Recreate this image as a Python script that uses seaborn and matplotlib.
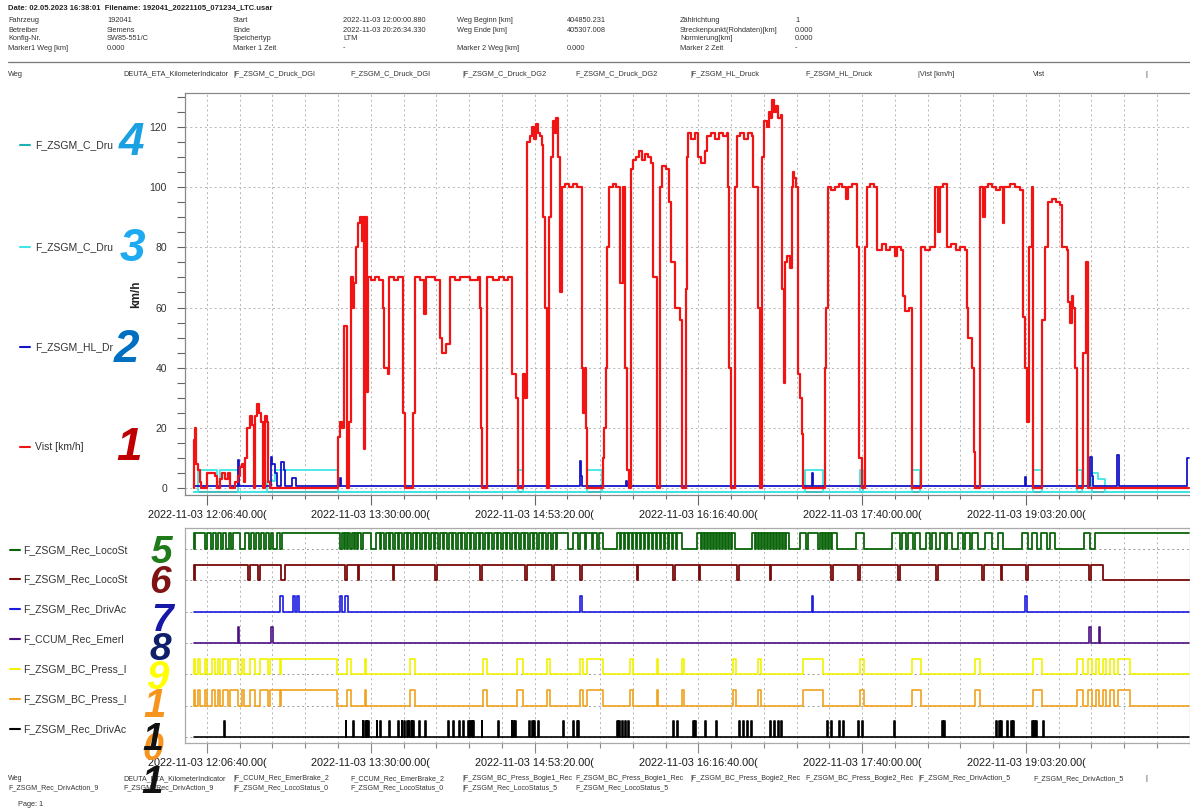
import numpy as np
import pandas as pd
import seaborn as sns
import matplotlib.pyplot as plt
from matplotlib.lines import Line2D

# time axis: minutes after 2022-11-03 12:00:00
T_END = 506.5

# Vist [km/h] as step points (minute, km/h)
vist = [
    (0.0, 0), (0.3, 16), (0.8, 20), (1.3, 8), (2.0, 6), (3.0, 2), (3.5, 0),
    (6.6, 5), (10.7, 4), (11.7, 0), (13.2, 3), (14.5, 5), (15.8, 3), (17.3, 5), (18.3, 0),
    (20.9, 2), (22.4, 4), (23.4, 7), (24.4, 8), (25.5, 2), (26.0, 10), (27.0, 20), (28.5, 24),
    (29.5, 21), (30.5, 0), (31.0, 24), (32.1, 28), (33.1, 25), (34.1, 22), (35.1, 0),
    (36.1, 24), (37.2, 22), (37.7, 2), (38.7, 0),
    (73.3, 17), (74.3, 22), (75.3, 20), (76.4, 54), (77.9, 0), (79.0, 22), (80.0, 70),
    (80.9, 60), (81.5, 68), (82.5, 80), (83.5, 88), (84.5, 90), (85.5, 82), (86.0, 90),
    (86.8, 13), (87.3, 90), (88.1, 32), (88.6, 70),
    (90.0, 69), (92.0, 70), (94.0, 69), (96.2, 60), (96.8, 40), (98.7, 38), (99.5, 70),
    (102.0, 69), (104.0, 70), (106.4, 25), (107.4, 0), (111.5, 25), (112.5, 70),
    (115.0, 69), (117.0, 58), (118.0, 70), (122.7, 69), (125.2, 50), (126.0, 45), (128.5, 48),
    (130.3, 70), (133.0, 69), (135.4, 70), (140.5, 69), (144.5, 70),
    (145.6, 60), (146.3, 20), (146.8, 0), (149.1, 70),
    (152.0, 69), (155.0, 70), (158.0, 69), (160.0, 70),
    (161.9, 38), (163.9, 30), (164.9, 0), (167.5, 38), (168.5, 30), (169.5, 115), (171.0, 117),
    (172.0, 120), (173.0, 116), (174.0, 121), (175.0, 118), (176.1, 117), (177.0, 114),
    (177.6, 90), (178.7, 60), (179.7, 0), (180.7, 90), (181.7, 110), (182.7, 122), (183.7, 118),
    (184.5, 123), (185.3, 110), (186.3, 65), (187.3, 100),
    (189.0, 101), (191.0, 100), (193.0, 101), (195.0, 100),
    (197.5, 40), (198.2, 25), (199.0, 40), (199.5, 20), (200.0, 0),
    (208.2, 10), (208.7, 20), (209.7, 40), (210.2, 80), (211.0, 100), (213.0, 101), (215.0, 100),
    (216.8, 68), (218.4, 100), (219.4, 40), (220.4, 6), (221.4, 0), (222.6, 106),
    (223.5, 109), (225.0, 110), (226.5, 112), (228.0, 109), (229.5, 111), (231.0, 110),
    (232.5, 108), (233.6, 70), (235.7, 0), (237.2, 100), (238.0, 107), (240.0, 106),
    (241.8, 95), (243.0, 75), (245.0, 60), (247.5, 56), (248.4, 0), (250.4, 66), (251.0, 110),
    (251.4, 118), (253.0, 116), (255.0, 118), (256.5, 110), (258.0, 108), (260.0, 112),
    (261.1, 117), (263.0, 118), (265.0, 116), (267.0, 118), (269.0, 117), (271.0, 118),
    (271.8, 100), (272.5, 40), (273.4, 0), (275.4, 100), (276.4, 117), (278.0, 118),
    (280.0, 116), (282.0, 118), (284.0, 117), (284.5, 100), (287.0, 60), (288.1, 0),
    (289.1, 110), (290.0, 122), (291.5, 120), (292.5, 125), (293.5, 123), (294.2, 129),
    (295.0, 125), (296.0, 127), (297.3, 123), (298.5, 124), (299.3, 66), (300.3, 35),
    (301.0, 75), (302.0, 77), (303.3, 73), (304.4, 100), (305.0, 105), (305.5, 103),
    (306.5, 100), (307.4, 38), (308.5, 30), (309.5, 18), (310.0, 0),
    (321.2, 40), (321.8, 60), (322.7, 100), (324.0, 99), (326.0, 100), (328.0, 101),
    (330.0, 100), (332.0, 96), (333.0, 100), (335.0, 101), (337.5, 80), (338.5, 10), (340.0, 0),
    (341.5, 80), (342.6, 100), (344.0, 101), (346.0, 100), (347.7, 79),
    (350.0, 81), (352.0, 79), (354.3, 80), (356.8, 77), (357.8, 80), (360.0, 79), (360.9, 64),
    (361.9, 59), (364.0, 60), (365.5, 0),
    (370.0, 80), (372.0, 79), (374.6, 80), (377.2, 100), (378.5, 85), (379.5, 100), (381.0, 101),
    (383.3, 80), (385.0, 81), (388.0, 79), (390.0, 80), (392.4, 79), (393.5, 60), (394.0, 50),
    (396.0, 40), (397.0, 12), (397.5, 0),
    (400.1, 100), (401.5, 90), (402.3, 100), (404.0, 101), (406.0, 100), (408.0, 99),
    (410.0, 100), (411.8, 88), (412.3, 100), (415.0, 101), (418.0, 100), (420.4, 99),
    (422.0, 57), (423.0, 40), (424.0, 22), (425.0, 80), (426.5, 100), (427.1, 0),
    (431.6, 56), (433.2, 80), (434.7, 95), (436.5, 96), (438.5, 95), (440.8, 94), (441.8, 80),
    (444.4, 79), (444.9, 62), (446.0, 55), (446.8, 64), (447.4, 60), (448.4, 40), (449.4, 0),
    (452.5, 45), (454.0, 75), (455.0, 0), (T_END, 0),
]

# F_ZSGM_HL_Druck (step points)
hl_druck = [
    (0.0, 0.8), (22.4, 9.5), (22.9, 0.8), (39.4, 10.5), (40.0, 8), (41.2, 5), (42.2, 0.8),
    (44.3, 8.6), (45.8, 6), (46.5, 0.8), (49.9, 3.3), (51.9, 0.8), (74.3, 3.5), (75.0, 0.8),
    (78.0, 8), (78.6, 0.8), (196.5, 9), (197.0, 4), (197.5, 0.8), (219.9, 2.5), (220.4, 0.8),
    (314.6, 5), (315.1, 0.8), (423.0, 3.8), (423.5, 0.8), (456.1, 10.5), (456.8, 4),
    (457.5, 0.8), (469.5, 11), (470.5, 0.8), (505.5, 10), (T_END, 10),
]

# F_ZSGM_C_Druck_DG2 (step points)
c_druck_2 = [
    (0.0, -1.2), (2.0, 6), (11.7, 2), (13.2, 6), (22.4, -1.2), (37.2, 2.6), (41.2, 6),
    (73.3, -1.2), (164.9, 6), (167.5, -1.2), (200.0, 6), (207.7, -1.2), (311.0, 6),
    (320.2, -1.2), (339.0, 6), (340.5, -1.2), (365.5, 6), (369.5, -1.2), (427.1, 6),
    (431.6, -1.2), (449.4, 6), (452.0, -1.2), (457.1, 5), (460.0, 3), (463.7, -1.2), (T_END, -1.2),
]

# F_ZSGM_C_Druck_DGI (step points)
c_druck_1 = [(0.0, -1.2), (T_END, -1.2)]

# digital channels: intervals (start, end) in minutes
loco_status_0_low = [
    (0.0, 0.5), (5.6, 6.6), (8.7, 9.7), (11.2, 12.2), (13.7, 14.8), (16.3, 17.8), (18.8, 19.9),
    (23.4, 26.0), (28.0, 29.0), (30.5, 31.6), (33.1, 34.1), (35.6, 36.6), (38.2, 39.2),
    (40.2, 42.2), (43.8, 44.8),
    (74.3, 75.3), (76.4, 76.9), (77.9, 78.4), (79.4, 80.4), (81.4, 81.9), (83.0, 83.5),
    (85.0, 86.0), (90.1, 92.6), (94.7, 95.2), (96.7, 97.7), (99.3, 99.8), (101.3, 102.3),
    (103.8, 104.3), (105.9, 106.9), (108.4, 108.9), (110.5, 111.5), (113.0, 113.5),
    (115.0, 116.1), (117.6, 118.1), (119.6, 120.6), (122.2, 122.7), (124.2, 125.2),
    (126.7, 127.3), (128.8, 129.8), (131.3, 131.8), (133.4, 134.4), (135.9, 136.4),
    (137.9, 139.0), (140.5, 141.0), (142.5, 143.5), (145.1, 145.6), (147.1, 148.1),
    (149.6, 150.2), (151.7, 152.7), (154.2, 154.7), (156.3, 157.3), (158.8, 159.3),
    (160.8, 161.9), (163.4, 163.9), (165.4, 166.4), (168.0, 168.5), (170.0, 171.0),
    (172.6, 173.1), (174.6, 175.6), (177.1, 177.6), (179.2, 180.2), (181.7, 182.7),
    (184.3, 184.8), (190.4, 192.9), (195.5, 196.5), (199.0, 199.5), (202.6, 203.1),
    (205.1, 206.1), (208.2, 215.3), (216.8, 217.3), (218.9, 219.4), (220.9, 221.4),
    (222.9, 223.5), (225.0, 225.5), (227.0, 227.5), (229.1, 229.6), (231.1, 231.6),
    (233.1, 233.6), (235.2, 235.7), (237.2, 237.7), (239.2, 239.7), (241.3, 241.8),
    (243.3, 243.8), (245.3, 245.8), (248.4, 256.0), (258.1, 258.6), (259.6, 260.1),
    (261.1, 261.6), (262.6, 263.2), (264.2, 264.7), (265.7, 266.2), (267.2, 267.7),
    (268.8, 269.3), (270.3, 270.8), (271.8, 272.3), (273.3, 273.8), (275.4, 284.0),
    (285.5, 286.1), (287.1, 287.6), (288.6, 289.1), (290.1, 290.6), (291.7, 292.2),
    (293.2, 293.7), (294.7, 295.2), (296.2, 296.7), (297.8, 298.3), (299.3, 299.8),
    (300.8, 301.3), (302.9, 308.5), (311.5, 312.5), (317.6, 318.6), (319.7, 320.2),
    (321.2, 321.7), (322.7, 323.2), (324.2, 324.7), (327.3, 337.0), (341.0, 355.3),
    (359.4, 360.4), (362.4, 363.4), (366.0, 367.0), (369.5, 372.6), (374.6, 375.6),
    (377.7, 379.7), (382.3, 383.3), (385.8, 388.9), (391.4, 392.4), (395.0, 396.0),
    (399.1, 402.6), (406.2, 409.2), (411.8, 421.5), (424.5, 426.5), (429.1, 431.1),
    (434.2, 435.7), (438.2, 453.0), (456.1, 458.6),
]
loco_status_5_low = [
    (0.0, 0.8), (27.5, 28.5), (32.6, 33.6), (44.3, 46.3), (76.9, 77.9), (83.5, 84.0),
    (101.3, 101.8), (122.7, 123.7), (145.6, 146.6), (168.5, 169.5), (182.2, 183.2),
    (196.5, 197.5), (225.5, 226.0), (243.8, 244.8), (257.0, 257.6), (276.4, 277.4),
    (293.2, 293.7), (324.2, 325.2), (337.9, 339.0), (358.3, 359.4), (377.7, 378.7),
    (401.1, 402.1), (410.8, 411.3), (423.5, 424.5), (455.6, 456.6), (462.7, 508.0),
]
driv_action_9_on = [
    (43.8, 45.3), (50.4, 51.4), (52.4, 53.4), (74.3, 75.3), (76.9, 78.4), (196.5, 197.5),
    (314.6, 315.1), (423.0, 424.0),
]
emer_brake_2_on = [(22.4, 22.9), (39.2, 40.2), (455.6, 456.6), (460.6, 461.2)]
bc_bogie1_on = [
    (0.0, 0.5), (2.0, 3.1), (5.6, 6.6), (9.2, 10.7), (12.2, 13.2), (14.8, 17.3), (18.3, 22.4),
    (24.4, 25.5), (28.5, 31.0), (33.6, 37.7), (38.7, 43.8), (44.3, 72.8), (77.9, 79.9),
    (87.0, 87.5), (109.9, 112.5), (147.1, 149.1), (164.4, 167.5), (179.7, 181.2),
    (196.5, 198.0), (200.0, 208.2), (221.9, 223.5), (235.7, 236.2), (248.4, 249.4),
    (274.4, 275.9), (287.1, 288.6), (310.0, 320.2), (339.0, 341.0), (365.5, 370.0),
    (397.5, 400.1), (427.1, 431.6), (449.4, 452.5), (455.0, 457.1), (459.1, 460.6),
    (462.7, 464.2), (466.2, 468.3), (470.3, 476.4),
]
bc_bogie2_on = [
    (0.0, 0.5), (2.0, 3.1), (5.6, 6.6), (9.2, 10.7), (12.2, 13.2), (14.8, 17.3), (18.3, 22.4),
    (24.4, 25.5), (28.5, 31.0), (33.6, 37.7), (38.7, 43.8), (44.3, 72.8), (77.9, 79.9),
    (87.0, 87.5), (109.9, 112.5), (147.1, 149.1), (164.4, 167.5), (179.7, 181.2),
    (196.5, 198.0), (200.0, 208.2), (221.9, 223.5), (235.7, 236.2), (248.4, 249.4),
    (274.4, 275.9), (287.1, 288.6), (310.0, 320.2), (339.0, 341.0), (365.5, 370.0),
    (397.5, 400.1), (427.1, 431.6), (449.4, 452.5), (455.0, 457.1), (459.1, 460.6),
    (462.7, 464.2), (466.2, 468.3), (470.3, 476.4),
]
driv_action_5_on = [
    15.3, 77.2, 81.1, 85.9, 87.0, 87.9, 88.7, 93.0, 94.7, 99.4, 104.0, 105.7, 106.9, 108.3,
    109.6, 110.8, 111.6, 114.7, 117.6, 129.4, 132.0, 135.0, 137.1, 139.6, 140.5, 141.4, 142.2,
    146.4, 154.9, 161.7, 162.5, 163.4, 170.7, 171.9, 173.1, 175.3, 188.0, 193.1, 194.8, 195.6,
    215.2, 216.5, 217.7, 219.4, 221.1, 244.0, 245.7, 254.0, 255.0, 260.1, 265.7, 277.4, 279.4,
    281.5, 283.5, 293.2, 295.2, 297.3, 298.8, 322.2, 324.2, 328.3, 330.3, 338.0, 340.0, 356.3,
    380.7, 381.8, 408.2, 409.7, 410.8, 413.8, 415.9, 416.9, 426.5, 427.6, 428.6, 432.1,
]

tick_labels = [
    '2022-11-03 12:06:40.00(', '2022-11-03 13:30:00.00(', '2022-11-03 14:53:20.00(',
    '2022-11-03 16:16:40.00(', '2022-11-03 17:40:00.00(', '2022-11-03 19:03:20.00(',
]

main_names = ['F_ZSGM_C_Dru', 'F_ZSGM_C_Dru', 'F_ZSGM_HL_Dr', 'Vist [km/h]']
lower_names = ['F_ZSGM_Rec_LocoSt', 'F_ZSGM_Rec_LocoSt', 'F_ZSGM_Rec_DrivAc', 'F_CCUM_Rec_Emerl',
               'F_ZSGM_BC_Press_I', 'F_ZSGM_BC_Press_I', 'F_ZSGM_Rec_DrivAc']

header_rows = [
    ['Fahrzeug', '192041', 'Start', '2022-11-03 12:00:00.880', 'Weg Beginn [km]', '404850.231',
     'Zählrichtung', '1'],
    ['Betreiber', 'Siemens', 'Ende', '2022-11-03 20:26:34.330', 'Weg Ende [km]', '405307.008',
     'Streckenpunkt(Rohdaten)[km]', '0.000'],
    ['Konfig-Nr.', 'SW85-551/C', 'Speichertyp', 'LTM', '', '', 'Normierung[km]', '0.000'],
    ['Marker1 Weg [km]', '0.000', 'Marker 1 Zeit', '-', 'Marker 2 Weg [km]', '0.000',
     'Marker 2 Zeit', '-'],
]
channel_row = ['Weg', 'DEUTA_ETA_KilometerIndicator', '|F_ZSGM_C_Druck_DGI', 'F_ZSGM_C_Druck_DGI',
               '|F_ZSGM_C_Druck_DG2', 'F_ZSGM_C_Druck_DG2', '|F_ZSGM_HL_Druck', 'F_ZSGM_HL_Druck',
               '|Vist [km/h]', 'Vist', '|']
footer_row_1 = ['Weg', 'DEUTA_ETA_KilometerIndicator', '|F_CCUM_Rec_EmerBrake_2',
                'F_CCUM_Rec_EmerBrake_2', '|F_ZSGM_BC_Press_Bogie1_Rec', 'F_ZSGM_BC_Press_Bogie1_Rec',
                '|F_ZSGM_BC_Press_Bogie2_Rec', 'F_ZSGM_BC_Press_Bogie2_Rec',
                '|F_ZSGM_Rec_DrivAction_5', 'F_ZSGM_Rec_DrivAction_5', '|']
footer_row_2 = ['F_ZSGM_Rec_DrivAction_9', 'F_ZSGM_Rec_DrivAction_9', '|F_ZSGM_Rec_LocoStatus_0',
                'F_ZSGM_Rec_LocoStatus_0', '|F_ZSGM_Rec_LocoStatus_5', 'F_ZSGM_Rec_LocoStatus_5']


def pairs_frame(pairs):
    return pd.DataFrame(pairs, columns=['t', 'v'])


def pulse_frame(intervals, rest, active):
    '''
    Build a step series from (start, end) intervals where the signal leaves its rest level.
    '''
    t, v = [0.0], [rest]
    for a, b in intervals:
        t += [a, b]
        v += [active, rest]
    if t[-1] < T_END:
        t.append(T_END)
        v.append(rest)
    return pd.DataFrame({'t': t, 'v': v})


sns.set_theme(style='white')
plt.rcParams['font.family'] = ['Liberation Sans', 'DejaVu Sans']

W, H = 1190, 811
fig = plt.figure(figsize=(11.9, 8.11), dpi=100)


def fx(px):
    return px / W


def fy(py):
    return 1 - py / H


TXT = '#333333'
TICK_TXT = '#1a1a1a'
GRID = '#b5b5b5'
major_x = np.arange(6 + 2 / 3, 500, 250 / 3)
minor_x = np.arange(6 + 2 / 3, 507, 50 / 3)

# ---------------- main analogue chart ----------------
ax = fig.add_axes([fx(185), fy(495), fx(1190) - fx(185), (495 - 93) / H])
main_series = [
    (pairs_frame(c_druck_1), '#20b0b0', 1.2),
    (pairs_frame(c_druck_2), '#40e6e6', 1.3),
    (pairs_frame(hl_druck), '#1515c8', 1.3),
    (pairs_frame(vist), '#f01414', 1.6),
]
for df, color, lw in main_series:
    sns.lineplot(data=df, x='t', y='v', ax=ax, estimator=None, sort=False, errorbar=None,
                 color=color, lw=lw, drawstyle='steps-post', legend=False)
ax.set_xlim(-4.5, 506.8)
ax.set_ylim(-2.2, 131.2)
ax.set_yticks(np.arange(0, 121, 20))
ax.set_yticks(np.arange(0, 131, 5), minor=True)
ax.set_xticks(major_x, labels=tick_labels)
ax.set_xticks(minor_x, minor=True)
ax.grid(which='both', axis='x', ls=(0, (2, 3)), color=GRID, lw=0.7)
ax.grid(which='major', axis='y', ls=(0, (2, 3)), color=GRID, lw=0.7)
ax.tick_params(axis='y', which='both', direction='out', length=6, width=0.8, color='#666666',
               left=True, labelsize=7.5, labelcolor=TXT, pad=7)
ax.tick_params(axis='x', which='major', direction='out', length=7, width=0.8, color='#666666',
               bottom=True, labelsize=7.8, labelcolor=TICK_TXT, pad=4)
ax.tick_params(axis='x', which='minor', direction='out', length=3, width=0.8, color='#666666',
               bottom=True)
ax.set_xlabel('')
ax.set_ylabel('km/h', fontsize=8.5, fontweight='bold', color='#222222', labelpad=5)
for side in ['left', 'top', 'bottom']:
    ax.spines[side].set_color('#888888')
    ax.spines[side].set_linewidth(0.9)
ax.spines['right'].set_visible(False)

# ---------------- digital channels ----------------
bx = fig.add_axes([fx(185), fy(743), fx(1190) - fx(185), (743 - 528) / H])
lower_series = [
    (pulse_frame(loco_status_0_low, 1, 0), '#0a640a', 1.3),
    (pulse_frame(loco_status_5_low, 1, 0), '#7a0a0a', 1.3),
    (pulse_frame(driv_action_9_on, 0, 1), '#1a1ae0', 1.2),
    (pulse_frame(emer_brake_2_on, 0, 1), '#4b0f82', 1.2),
    (pulse_frame(bc_bogie1_on, 0, 1), '#f2f200', 1.2),
    (pulse_frame(bc_bogie2_on, 0, 1), '#f0a21e', 1.2),
    (pulse_frame([(s, s + 0.4) for s in driv_action_5_on], 0, 1), '#000000', 1.2),
]
for i, (df, color, lw) in enumerate(lower_series):
    sns.lineplot(x=df['t'], y=(6 - i) + 0.5 * df['v'], ax=bx, estimator=None, sort=False,
                 errorbar=None, color=color, lw=lw, drawstyle='steps-post', legend=False)
bx.set_xlim(-4.5, 506.8)
bx.set_ylim(-0.19, 6.67)
bx.set_yticks(np.arange(0, 7))
bx.set_yticklabels([])
bx.set_xticks(major_x, labels=tick_labels)
bx.set_xticks(minor_x, minor=True)
bx.grid(which='both', axis='x', ls=(0, (2, 3)), color=GRID, lw=0.7)
bx.grid(which='major', axis='y', ls=(0, (2, 3)), color='#999999', lw=0.7)
bx.tick_params(axis='y', which='both', left=False, length=0)
bx.tick_params(axis='x', which='major', direction='out', length=7, width=0.8, color='#888888',
               bottom=True, labelsize=7.8, labelcolor=TICK_TXT, pad=4)
bx.tick_params(axis='x', which='minor', direction='out', length=3.5, width=0.8, color='#888888',
               bottom=True)
bx.set_xlabel('')
bx.set_ylabel('')
for side in ['left', 'top', 'bottom', 'right']:
    bx.spines[side].set_color('#aaaaaa')
    bx.spines[side].set_linewidth(0.9)

# ---------------- side labels ----------------
def side_label(ypx, text, color, x0, x1, xt):
    fig.add_artist(Line2D([fx(x0), fx(x1)], [fy(ypx), fy(ypx)], color=color, lw=1.5,
                          transform=fig.transFigure))
    fig.text(fx(xt), fy(ypx), text, ha='left', va='center', fontsize=7.5, color=TXT)


main_label_y = [145, 247, 347, 447]
for ypx, name, (_, color, _) in zip(main_label_y, main_names, main_series):
    side_label(ypx, name, color, 20, 30, 35)

lower_label_y = [550, 579, 609, 639, 669, 699, 729]
for ypx, name, (_, color, _) in zip(lower_label_y, lower_names, lower_series):
    side_label(ypx, name, color, 10, 20, 23)

# ---------------- report header / footer ----------------
HS = 5.3
fig.text(fx(8), fy(8), 'Date: 02.05.2023 16:38:01  Filename: 192041_20221105_071234_LTC.usar',
         fontsize=5.5, fontweight='bold', color='#222222', va='center')
head_x = [8, 107, 233, 343, 457, 567, 680, 795]
for ypx, row in zip([21, 30, 39, 48], header_rows):
    for xp, txt in zip(head_x, row):
        fig.text(fx(xp), fy(ypx), txt, fontsize=HS, color=TXT, va='center')
fig.add_artist(Line2D([fx(8), fx(1190)], [fy(62), fy(62)], color='#777777', lw=0.9,
                      transform=fig.transFigure))
col_x = [8, 123, 233, 350, 462, 575, 690, 805, 918, 1033, 1145]
for xp, txt in zip(col_x, channel_row):
    fig.text(fx(xp), fy(74), txt, fontsize=HS, color=TXT, va='center')
for xp, txt in zip(col_x, footer_row_1):
    fig.text(fx(xp), fy(779), txt, fontsize=5.1, color=TXT, va='center')
for xp, txt in zip(col_x, footer_row_2):
    fig.text(fx(xp), fy(788), txt, fontsize=5.1, color=TXT, va='center')
fig.text(fx(18), fy(805), 'Page: 1', fontsize=HS, color=TXT, va='center')

# ---------------- hand-written channel numbers ----------------
marks = [
    ('4', 132, 143, '#1ba1e2', 33), ('3', 132, 249, '#1eaaf1', 33), ('2', 126, 350, '#0070c0', 33),
    ('1', 129, 448, '#c00000', 33), ('5', 161, 553, '#1f7a1a', 28), ('6', 160, 583, '#7f1313', 28),
    ('7', 162, 621, '#1818a8', 28), ('8', 160, 650, '#0f1f6a', 28), ('9', 157, 678, '#ffff00', 29),
    ('1', 155, 706, '#f7941d', 29), ('0', 153, 750, '#f7941d', 27), ('1', 153, 740, '#111111', 27),
    ('1', 152, 783, '#111111', 28),
]
for ch, xp, ypx, color, size in marks:
    fig.text(fx(xp), fy(ypx), ch, ha='center', va='center', fontsize=size, fontweight='bold',
             fontstyle='italic', color=color, family=['Liberation Sans', 'DejaVu Sans'])

fig.savefig('out.png', dpi=100, facecolor='white')
